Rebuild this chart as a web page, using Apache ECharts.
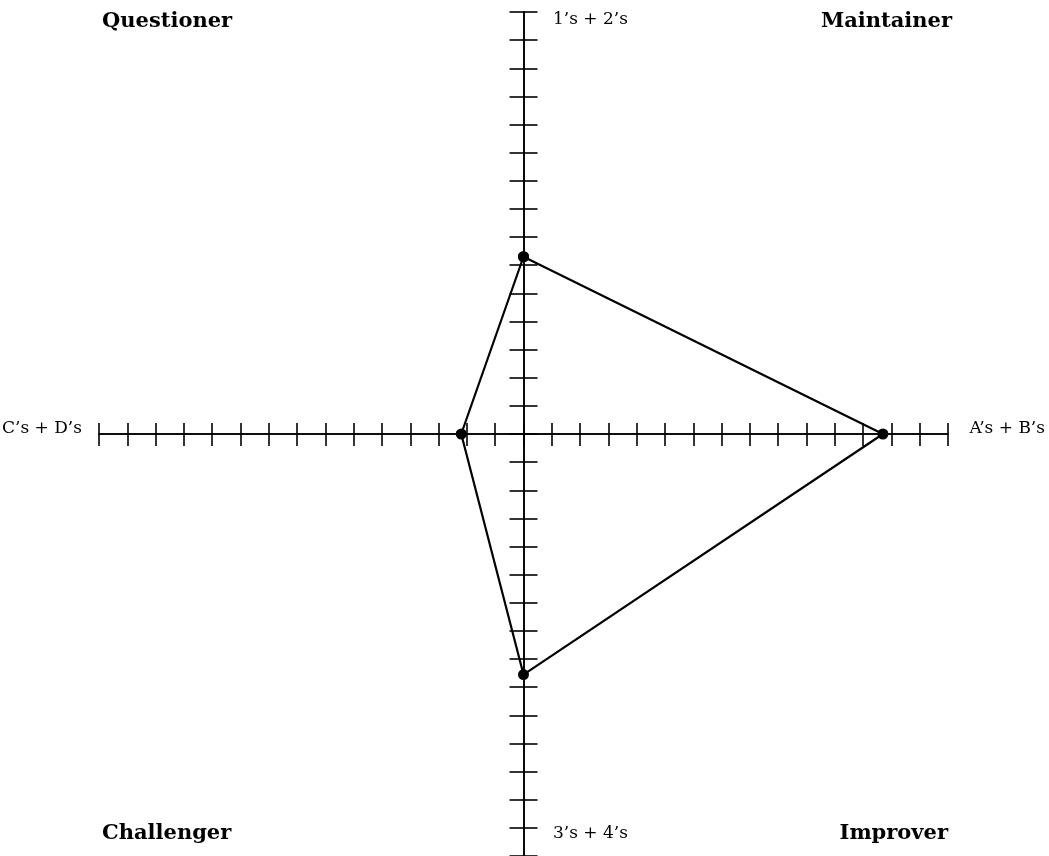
<!DOCTYPE html>
<html>
<head>
<meta charset="utf-8">
<title>Profile</title>
<script src="https://cdn.jsdelivr.net/npm/echarts@6/dist/echarts.min.js"></script>
<style>
  html, body { margin: 0; padding: 0; background: #fff; }
  #chart { width: 1049px; height: 856px; }
</style>
</head>
<body>
<div id="chart"></div>
<script>
// scale of both axes
const axisMin = -15;
const axisMax = 15;

// profile points: top, right, bottom, left (closed back to top)
const xValues = [0, 12.7, 0, -2.2, 0];
const yValues = [6.3, 0, -8.55, 0, 6.3];

// labels at the ends of the axes and in the corners
const axisNames = ['1’s + 2’s', 'A’s + B’s', '3’s + 4’s', 'C’s + D’s'];
const quadrantNames = ['Questioner', 'Maintainer', 'Challenger', 'Improver'];

window.addEventListener('load', function () {
    const myChart = echarts.init(document.getElementById('chart'));

    const gridBox = { left: 99, top: 12, width: 849, height: 846 };
    const lineStyle = { color: '#000', width: 1.6 };

    function valueAxis(gridIndex, inside, len) {
        return {
            type: 'value',
            gridIndex: gridIndex,
            min: axisMin,
            max: axisMax,
            interval: 1,
            axisLine: { show: true, onZero: true, lineStyle: lineStyle },
            axisTick: { show: true, inside: inside, length: len, lineStyle: lineStyle },
            axisLabel: { show: false },
            splitLine: { show: false }
        };
    }

    const serif = '"DejaVu Serif", "Liberation Serif", serif';
    const plain = { fill: '#000', font: '17px ' + serif };
    const bold = { fill: '#000', font: 'bold 21px ' + serif };

    const option = {
        backgroundColor: '#fff',
        animation: false,
        grid: [
            Object.assign({}, gridBox),
            Object.assign({}, gridBox)
        ],
        xAxis: [valueAxis(0, false, 12), valueAxis(1, true, 11)],
        yAxis: [valueAxis(0, false, 14), valueAxis(1, true, 14)],
        series: [{
            type: 'line',
            xAxisIndex: 0,
            yAxisIndex: 0,
            data: xValues.map((x, i) => [x, yValues[i]]),
            symbol: 'circle',
            symbolSize: 11,
            itemStyle: { color: '#000' },
            lineStyle: { color: '#000', width: 2.2 },
            z: 5
        }],
        graphic: [
            { type: 'text', left: 553, top: 11, style: Object.assign({ text: axisNames[0] }, plain) },
            { type: 'text', right: 4, top: 420, style: Object.assign({ text: axisNames[1] }, plain) },
            { type: 'text', left: 553, top: 825, style: Object.assign({ text: axisNames[2] }, plain) },
            { type: 'text', left: 2, top: 420, style: Object.assign({ text: axisNames[3] }, plain) },
            { type: 'text', left: 102, top: 11, style: Object.assign({ text: quadrantNames[0] }, bold) },
            { type: 'text', right: 97, top: 11, style: Object.assign({ text: quadrantNames[1] }, bold) },
            { type: 'text', left: 102, top: 823, style: Object.assign({ text: quadrantNames[2] }, bold) },
            { type: 'text', right: 101, top: 823, style: Object.assign({ text: quadrantNames[3] }, bold) }
        ]
    };

    myChart.setOption(option);
});
</script>
</body>
</html>
